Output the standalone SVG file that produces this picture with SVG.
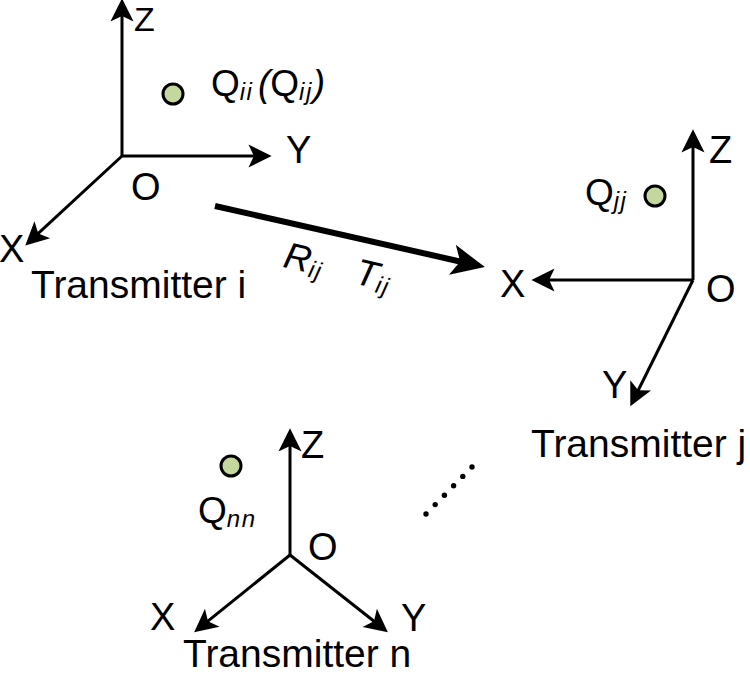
<svg xmlns="http://www.w3.org/2000/svg" width="750" height="675" viewBox="0 0 750 675">
<style>
text{font-family:"Liberation Sans",Arial,sans-serif;fill:#000}
.ax{font-size:38px}
.tr{font-size:39px}
.q{font-size:37px}
.sub{font-size:24px;font-style:italic;letter-spacing:1.5px}
.it{font-style:italic}
.axis{stroke:#000;stroke-width:3;fill:none;marker-end:url(#ah)}
.pt{fill:#c4d79c;stroke:#000;stroke-width:3}
</style>
<defs>
<marker id="ah" markerUnits="userSpaceOnUse" markerWidth="30" markerHeight="30" viewBox="-10 -10 22 20" refX="0" refY="0" orient="auto" overflow="visible">
<path d="M10,0 L-7,-8.5 L-3,0 L-7,8.5 Z" fill="#000"/>
</marker>
<marker id="bh" markerUnits="userSpaceOnUse" markerWidth="40" markerHeight="40" viewBox="-12 -12 30 24" refX="0" refY="0" orient="auto" overflow="visible">
<path d="M15,0 L-10,-11.5 L-4,0 L-10,11.5 Z" fill="#000"/>
</marker>
</defs>

<g id="transmitter-i">
<line class="axis" x1="122" y1="156" x2="122" y2="12"/>
<line class="axis" x1="122" y1="156" x2="258" y2="156"/>
<line class="axis" x1="122" y1="156" x2="35.3" y2="236.2"/>
<text class="ax" x="134" y="31" style="font-size:34px">Z</text>
<text class="ax" x="286" y="163">Y</text>
<text class="ax" x="131" y="200">O</text>
<text class="ax" x="-1" y="262">X</text>
<circle class="pt" cx="173" cy="94" r="10"/>
<text class="q" x="211" y="96">Q<tspan class="sub" dy="4">ii</tspan></text>
<text class="q" x="258" y="96"><tspan class="it">(</tspan>Q<tspan class="sub" dy="4">ij</tspan><tspan class="it" dy="-4">)</tspan></text>
<text class="tr" x="31" y="298">Transmitter i</text>
</g>

<g id="transmitter-j">
<line class="axis" x1="693" y1="280" x2="693" y2="143"/>
<line class="axis" x1="693" y1="280" x2="545" y2="280"/>
<line class="axis" x1="693" y1="280" x2="636.4" y2="394"/>
<text class="ax" x="709" y="163">Z</text>
<text class="ax" x="706" y="302">O</text>
<text class="ax" x="500" y="297">X</text>
<text class="ax" x="602" y="398">Y</text>
<circle class="pt" cx="655" cy="196" r="10"/>
<text class="q" x="585" y="205">Q<tspan class="sub" dy="4">jj</tspan></text>
<text class="tr" x="531" y="457">Transmitter j</text>
</g>

<g id="transmitter-n">
<line class="axis" x1="290" y1="555" x2="290" y2="442"/>
<line class="axis" x1="290" y1="555" x2="204.8" y2="623.7"/>
<line class="axis" x1="290" y1="555" x2="377.2" y2="623.8"/>
<text class="ax" x="301" y="458">Z</text>
<text class="ax" x="308" y="560">O</text>
<text class="ax" x="150" y="630">X</text>
<text class="ax" x="401" y="631">Y</text>
<circle class="pt" cx="231" cy="466" r="10"/>
<text class="q" x="198" y="523">Q<tspan class="sub" dy="4">nn</tspan></text>
<text class="tr" x="183" y="667">Transmitter n</text>
</g>

<g id="ellipsis" fill="#000">
<circle cx="472" cy="467" r="2.7"/>
<circle cx="462.8" cy="476.4" r="2.7"/>
<circle cx="453.6" cy="485.8" r="2.7"/>
<circle cx="444.4" cy="495.2" r="2.7"/>
<circle cx="435.2" cy="504.6" r="2.7"/>
<circle cx="426" cy="514" r="2.7"/>
</g>

<g id="connectors">
<line x1="215" y1="206" x2="465.4" y2="262.7" stroke="#000" stroke-width="6" marker-end="url(#bh)"/>
<g transform="rotate(13 283 267)">
<text class="q it" x="282" y="267">R<tspan class="sub" dy="4">ij</tspan></text>
<text class="q it" x="355" y="267">T<tspan class="sub" dy="4">ij</tspan></text>
</g>
</g>
</svg>
